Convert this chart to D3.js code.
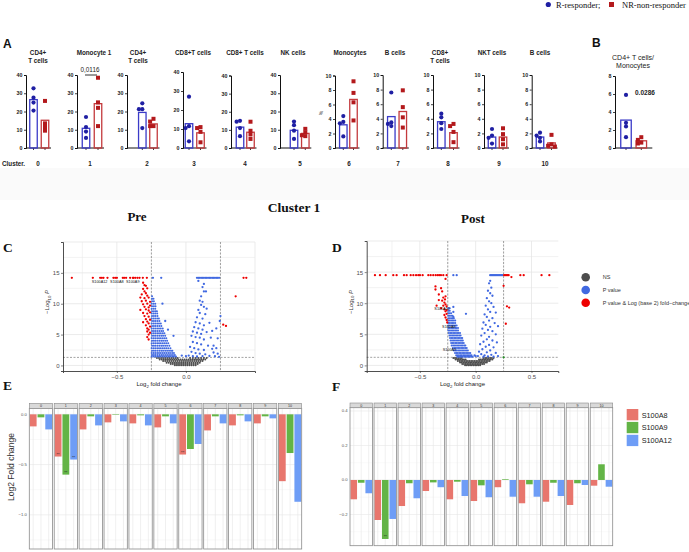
<!DOCTYPE html>
<html><head><meta charset="utf-8">
<script src="https://cdn.jsdelivr.net/npm/d3@7"></script>
<style>body{margin:0;background:#fff}svg{display:block}</style>
</head><body>
<svg id="c" width="689" height="552"></svg>
<script>
// ================= DATA =================
const clusterIds = ["0","1","2","3","4","5","6","7","8","9","10"];
const cellTitles = [["CD4+","T cells"],["Monocyte 1"],["CD4+","T cells"],["CD8+T cells"],["CD8+ T cells"],["NK cells"],["Monocytes"],["B cells"],["CD8+","T cells"],["NKT cells"],["B cells"]];
const yMaxA = [40,40,40,40,40,40,10,10,10,10,10];
const rBar  = [26.5,10.8,19.5,12.8,11.5,9.7,3.2,4.3,3.6,1.5,1.5];
const nrBar = [15.2,24.3,13.2,8.0,8.7,8.0,6.7,5.0,2.1,1.5,0.7];
const rDots  = [[32.7,27.6,24.9,20.5],[17,11.5,9,5.5],[24.5,21.3,21.3,10.9],[27,11.5,10.5,3.5],[15,14.5,11,6.5],[14.5,12.5,9.5,5],[4.4,3.6,3.4,1.6],[7.6,3.5,3.3,3.0],[4.7,4.2,3.4,2.6],[2.6,1.7,1.4,0.6],[2.1,1.7,1.4,0.9]];
const nrDots = [[25.8,13.5,11.5,9.5],[38.5,25,22,12],[16,14.5,12,12],[11,10.5,8.5,3],[14.5,9.5,7.5,5],[10.5,8.5,7,6.5],[9.2,7.6,6.3,3.8],[7.9,5.6,4.2,2.8],[3.3,3.0,2.2,0.8],[2.7,1.9,1.2,0.5],[1.8,0.5,0.3,0.2]];
const groups = ["R","NR"];
const pLabelA = "0,0116";
const ratioBar = [3.1, 0.8];
const ratioR = [5.9,2.8,2.4,1.2];
const ratioNR = [1.2,0.9,0.6,0.5];
const ratioP = "0.0286";

// Volcano: Pre
const preRed = [[-0.826,14.2],[-0.674,14.2],[-0.621,14.2],[-0.609,14.2],[-0.597,14.2],[-0.568,14.2],[-0.525,14.2],[-0.512,14.2],[-0.5,14.2],[-0.457,14.2],[-0.447,14.2],[-0.433,14.2],[-0.404,14.2],[-0.384,14.2],[-0.38,14.2],[-0.367,14.2],[-0.351,14.2],[-0.336,14.2],[-0.312,14.2],[-0.283,14.2],[0.417,14.2],[0.437,14.2],
[-0.31,13.4],[-0.3,13.0],[-0.29,12.9],[-0.31,12.4],[-0.28,12.5],[-0.30,12.0],[-0.29,11.7],[-0.32,11.5],[-0.28,11.3],[-0.33,11.0],[-0.30,10.9],[-0.27,11.0],[-0.32,10.4],[-0.29,10.5],[-0.26,10.3],[-0.31,9.9],[-0.28,10.0],[-0.30,9.5],[-0.27,9.4],[-0.26,9.7],[-0.33,9.0],[-0.29,9.1],[-0.27,8.9],[-0.31,8.5],[-0.28,8.4],[-0.26,8.6],[-0.30,8.0],[-0.27,7.9],[-0.29,7.5],[-0.26,7.4],[-0.31,7.0],[-0.28,7.1],[-0.27,6.8],[-0.29,6.5],[-0.26,6.3],[-0.28,6.0],[-0.27,5.8],[-0.28,5.5],[-0.26,5.3],[-0.27,5.0],[-0.28,4.6],[-0.27,4.2],
[0.27,6.6],[0.29,6.4],[0.36,11.2]];
const preBlue = [[-0.239,14.2],[-0.179,14.2],[0.08,14.2],[0.09,14.2],[0.1,14.2],[0.11,14.2],[0.12,14.2],[0.13,14.2],[0.14,14.2],[0.15,14.2],[0.16,14.2],[0.17,14.2],[0.18,14.2],[0.19,14.2],[0.2,14.2],[0.21,14.2],[0.22,14.2],[0.23,14.2],[0.24,14.2],[0.09,13.7],
[0.13,13.2],[0.12,12.7],[0.13,12.0],[0.145,12.0],[0.11,11.2],[0.1,10.5],[0.12,10.3],[0.11,9.8],[0.13,9.5],[0.09,9.0],[0.15,9.2],[0.1,8.5],[0.14,8.3],[0.25,8.0],[0.08,7.8],[0.12,7.6],[0.245,7.2],[0.07,7.0],[0.1,6.8],[0.13,6.5],[0.17,6.9],[0.06,6.2],[0.09,6.0],[0.12,5.8],[0.22,6.0],[0.05,5.5],[0.08,5.3],[0.11,5.1],[0.15,5.4],[0.19,5.6],[0.04,4.8],[0.07,4.6],[0.1,4.5],[0.13,4.2],[0.18,4.5],[0.23,4.4],[0.05,3.8],[0.08,3.6],[0.11,3.4],[0.16,3.2],[0.2,3.2],[0.03,3.0],[0.06,2.8],[0.09,2.6],[0.13,2.5],[0.19,2.7],[0.22,2.8],[0.04,2.2],[0.07,2.0],[0.1,1.9],[0.14,1.8],[0.2,2.1],[0.23,1.9],[0.02,1.6],[0.05,1.5],[0.08,1.45],[0.12,1.5],[0.17,1.55],[0.21,1.5],[0.24,1.4],[-0.09,4.8],[-0.17,10.0],[-0.15,7.2],[-0.13,5.8],[0.0,1.5],[-0.03,1.6]];
// rows: first value is -log10 P, the rest are log2 fold changes
const preBlueRows = [[11.2,-0.245],[10.8,-0.245,-0.235],[10.4,-0.245,-0.232],[10.0,-0.248,-0.235,-0.222],[9.6,-0.245,-0.232,-0.22],[9.2,-0.248,-0.235,-0.222],[8.8,-0.245,-0.232,-0.22,-0.21],[8.4,-0.248,-0.235,-0.222,-0.208],[8.0,-0.245,-0.232,-0.22,-0.206],[7.6,-0.248,-0.235,-0.222,-0.208,-0.196],[7.2,-0.245,-0.232,-0.22,-0.206,-0.192],[6.8,-0.248,-0.235,-0.222,-0.208,-0.195,-0.182],[6.4,-0.245,-0.232,-0.22,-0.206,-0.192,-0.178],[6.0,-0.248,-0.235,-0.222,-0.208,-0.195,-0.182,-0.168],[5.6,-0.245,-0.232,-0.22,-0.206,-0.192,-0.178,-0.165],[5.2,-0.248,-0.235,-0.222,-0.208,-0.195,-0.182,-0.168,-0.156],[4.8,-0.245,-0.232,-0.22,-0.206,-0.192,-0.178,-0.165,-0.15],[4.4,-0.248,-0.235,-0.222,-0.208,-0.195,-0.182,-0.168,-0.155,-0.142],[4.0,-0.245,-0.232,-0.22,-0.206,-0.192,-0.178,-0.165,-0.15,-0.136],[3.6,-0.248,-0.235,-0.222,-0.208,-0.195,-0.182,-0.168,-0.155,-0.142,-0.128],[3.2,-0.245,-0.232,-0.22,-0.206,-0.192,-0.178,-0.165,-0.15,-0.136,-0.12],[2.8,-0.248,-0.235,-0.222,-0.208,-0.195,-0.182,-0.168,-0.155,-0.142,-0.128,-0.112],[2.4,-0.245,-0.232,-0.22,-0.206,-0.192,-0.178,-0.165,-0.15,-0.136,-0.122,-0.108,-0.098],[2.0,-0.248,-0.235,-0.222,-0.208,-0.195,-0.182,-0.168,-0.155,-0.142,-0.128,-0.115,-0.1,-0.087],[1.7,-0.245,-0.232,-0.22,-0.206,-0.192,-0.178,-0.165,-0.15,-0.136,-0.122,-0.108,-0.094,-0.08],[1.45,-0.248,-0.235,-0.222,-0.208,-0.195,-0.182,-0.168,-0.155,-0.142,-0.128,-0.115,-0.1,-0.087,-0.072]];
const preGreyRows = [[1.2,-0.21,-0.195,-0.18,-0.165,-0.15,-0.135,-0.12,-0.105,-0.09,-0.075,-0.06,0.03,0.05,0.07,0.09,0.11,0.13,0.15],[0.95,-0.19,-0.175,-0.16,-0.145,-0.13,-0.115,-0.1,-0.085,-0.07,-0.055,-0.04,-0.025,-0.01,0.005,0.02,0.035,0.05,0.065,0.08,0.095,0.11,0.125,0.14],[0.7,-0.165,-0.15,-0.135,-0.12,-0.105,-0.09,-0.075,-0.06,-0.045,-0.03,-0.015,0,0.015,0.03,0.045,0.06,0.075,0.09,0.105,0.12],[0.45,-0.14,-0.125,-0.11,-0.095,-0.08,-0.065,-0.05,-0.035,-0.02,-0.005,0.01,0.025,0.04,0.055,0.07,0.085,0.1],[0.22,-0.11,-0.095,-0.08,-0.065,-0.05,-0.035,-0.02,-0.005,0.01,0.025,0.04,0.055,0.07,0.085],[0.03,-0.08,-0.065,-0.05,-0.035,-0.02,-0.005,0.01,0.025,0.04,0.055,0.07]];
const preLabels = [["S100A12",-0.625,13.6],["S100A8",-0.5,13.6],["S100A9",-0.385,13.6]];

// Volcano: Post
const postRed = [[-0.902,14.5],[-0.857,14.5],[-0.806,14.5],[-0.738,14.5],[-0.708,14.5],[-0.642,14.5],[-0.618,14.5],[-0.582,14.5],[-0.558,14.5],[-0.534,14.5],[-0.514,14.5],[-0.499,14.5],[-0.475,14.5],[-0.424,14.5],[-0.403,14.5],[-0.38,14.5],[-0.358,14.5],[-0.34,14.5],[-0.326,14.5],[-0.311,14.5],[-0.29,14.5],[-0.26,14.5],[-0.27,13.9],
[0.255,14.5],[0.265,14.5],[0.275,14.5],[0.285,14.5],[0.295,14.5],[0.32,14.2],[0.4,14.5],[0.43,14.5],[0.59,14.5],[0.66,14.5],
[-0.36,12.7],[-0.36,12.2],[-0.31,12.4],[-0.30,11.9],[-0.33,11.4],[-0.29,10.9],[-0.27,11.1],[-0.30,10.4],[-0.33,10.5],[-0.28,10.1],[-0.27,9.8],[-0.29,9.6],[-0.26,9.5],[-0.35,9.6],[-0.31,9.2],[-0.28,9.0],[-0.27,8.7],[-0.26,8.3],[-0.28,8.1],[-0.27,7.7],[-0.26,7.3],[-0.255,6.9],[-0.26,8.9],[-0.275,10.6],
[0.25,12.8],[0.28,9.5],[0.3,9.3],[0.27,6.7]];
const postBlue = [[-0.2,14.5],[-0.17,14.5],[0.13,14.5],[0.14,14.5],[0.15,14.5],[0.16,14.5],[0.17,14.5],[0.18,14.5],[0.19,14.5],[0.2,14.5],[0.21,14.5],[0.22,14.5],[0.23,14.5],[0.24,14.5],
[-0.2,9.4],[-0.2,8.6],[-0.2,7.8],[-0.087,8.3],
[0.13,13.6],[0.12,13.2],[0.14,12.5],[0.11,12.0],[0.13,11.6],[0.15,11.2],[0.1,10.8],[0.12,10.3],[0.14,10.0],[0.09,9.6],[0.16,9.4],[0.11,9.0],[0.13,8.6],[0.18,8.5],[0.08,8.2],[0.1,7.8],[0.15,7.6],[0.12,7.2],[0.07,6.9],[0.17,6.8],[0.09,6.5],[0.13,6.2],[0.2,6.3],[0.06,5.9],[0.11,5.7],[0.15,5.5],[0.08,5.2],[0.18,5.0],[0.05,4.8],[0.12,4.6],[0.1,4.2],[0.15,4.0],[0.07,3.8],[0.19,3.7],[0.04,3.4],[0.12,3.3],[0.09,3.0],[0.16,2.9],[0.06,2.6],[0.13,2.4],[0.03,2.2],[0.1,2.1],[0.18,2.0],[0.05,1.8],[0.08,1.6],[0.14,1.7],[0.02,1.5],[0.11,1.45],[0.16,1.4],[0.2,1.5],[0.07,1.4],[0.0,1.5],[-0.01,1.6]];
const postBlueRows = [[9.2,-0.245,-0.232],[8.8,-0.245,-0.232],[8.4,-0.245,-0.232,-0.22],[8.0,-0.245,-0.232,-0.22,-0.207],[7.6,-0.245,-0.232,-0.22,-0.207,-0.195],[7.2,-0.245,-0.232,-0.22,-0.207,-0.195,-0.183],[6.8,-0.245,-0.232,-0.22,-0.207,-0.195,-0.183],[6.4,-0.245,-0.232,-0.22,-0.207,-0.195,-0.183,-0.17],[6.0,-0.245,-0.232,-0.22,-0.207,-0.195,-0.183,-0.17,-0.158],[5.6,-0.245,-0.232,-0.22,-0.207,-0.195,-0.183,-0.17,-0.158],[5.2,-0.24,-0.227,-0.215,-0.202,-0.19,-0.177,-0.165,-0.152,-0.14],[4.8,-0.235,-0.222,-0.21,-0.197,-0.185,-0.172,-0.16,-0.147,-0.135],[4.4,-0.23,-0.217,-0.205,-0.192,-0.18,-0.167,-0.155,-0.142,-0.13,-0.12],[4.0,-0.225,-0.212,-0.2,-0.187,-0.175,-0.162,-0.15,-0.137,-0.125,-0.115],[3.6,-0.22,-0.207,-0.195,-0.182,-0.17,-0.157,-0.145,-0.132,-0.12,-0.107],[3.2,-0.215,-0.202,-0.19,-0.177,-0.165,-0.152,-0.14,-0.127,-0.115,-0.102,-0.092],[2.8,-0.205,-0.192,-0.18,-0.167,-0.155,-0.142,-0.13,-0.117,-0.105,-0.092,-0.08],[2.4,-0.195,-0.182,-0.17,-0.157,-0.145,-0.132,-0.12,-0.107,-0.095,-0.082,-0.07],[2.0,-0.185,-0.172,-0.16,-0.147,-0.135,-0.122,-0.11,-0.097,-0.085,-0.072,-0.06,-0.048],[1.65,-0.175,-0.162,-0.15,-0.137,-0.125,-0.112,-0.1,-0.087,-0.075,-0.062,-0.05,-0.037],[1.4,-0.165,-0.152,-0.14,-0.127,-0.115,-0.102,-0.09,-0.077,-0.065,-0.052,-0.04,-0.027]];
const postGreyRows = [[1.2,-0.2,-0.185,-0.17,-0.155,-0.14,-0.125,0.07,0.085,0.1,0.115,0.13,0.145,0.16],[0.95,-0.18,-0.165,-0.15,-0.135,-0.12,-0.105,-0.09,0.03,0.045,0.06,0.075,0.09,0.105,0.12,0.135,0.15],[0.7,-0.16,-0.145,-0.13,-0.115,-0.1,-0.085,-0.07,-0.055,-0.04,-0.025,-0.01,0.005,0.02,0.035,0.05,0.065,0.08,0.095,0.11,0.125],[0.45,-0.14,-0.125,-0.11,-0.095,-0.08,-0.065,-0.05,-0.035,-0.02,-0.005,0.01,0.025,0.04,0.055,0.07,0.085,0.1],[0.22,-0.12,-0.105,-0.09,-0.075,-0.06,-0.045,-0.03,-0.015,0,0.015,0.03,0.045,0.06,0.075],[0.03,-0.095,-0.08,-0.065,-0.05,-0.035,-0.02,-0.005,0.01,0.025,0.04]];
const postGreen = [[0.25,1.3]];
const postLabels = [["S100A12",-0.3,9.2],["S100A8",-0.24,6.2],["S100A9",-0.235,2.6]];
const volcanoLegend = ["NS","P value","P value & Log (base 2) fold\u2212change"];

// Log2 fold change bars
const genes = ["S100A8","S100A9","S100A12"];
const preS100A8  = [-0.12,-0.42,-0.15,-0.08,-0.09,-0.13,-0.40,-0.16,-0.11,-0.09,-0.665];
const preS100A9  = [-0.03,-0.60,-0.02,-0.005,-0.01,-0.02,-0.345,-0.02,-0.01,-0.02,-0.385];
const preS100A12 = [-0.15,-0.45,-0.11,-0.07,-0.11,-0.09,-0.295,-0.09,-0.07,-0.04,-0.87];
const postS100A8  = [-0.112,-0.232,-0.151,-0.064,-0.112,-0.122,-0.042,-0.135,-0.126,-0.145,-0.033];
const postS100A9  = [-0.016,-0.342,-0.019,-0.014,-0.01,-0.031,0.004,-0.025,-0.016,-0.019,0.091];
const postS100A12 = [-0.077,-0.226,-0.106,-0.042,-0.093,-0.1,-0.097,-0.097,-0.093,-0.029,-0.039];
const preStars = [["1","S100A8"],["1","S100A9"],["1","S100A12"],["6","S100A8"]];
const postStars = [["1","S100A9"]];

// ================= DRAWING =================
const svg = d3.select("#c");
const SANS = "'Liberation Sans', Arial, sans-serif";
const SERIF = "'Liberation Serif', 'Times New Roman', serif";
const BLUE = "#1f1fa3", BLUE_BAR = "#3b3bc8", RED = "#b3191c", RED_BAR = "#c43a3d";

svg.append("rect").attr("x",0).attr("y",168).attr("width",689).attr("height",32).attr("fill","#fafafa");

function txt(x,y,s,o={}){
  const t = svg.append("text").attr("x",x).attr("y",y).text(s)
    .attr("font-family",o.ff||SANS).attr("font-size",o.fs||7)
    .attr("font-weight",o.fw||"normal").attr("fill",o.fill||"#111")
    .attr("text-anchor",o.anchor||"start");
  if(o.rot) t.attr("transform",`rotate(${o.rot},${x},${y})`);
  return t;
}

// Top legend
svg.append("circle").attr("cx",548.3).attr("cy",4.5).attr("r",2.6).attr("fill",BLUE);
txt(556,7.5,"R-responder;",{ff:SERIF,fs:8.5});
svg.append("rect").attr("x",609).attr("y",2).attr("width",5).attr("height",5).attr("fill",RED);
txt(622,7.5,"NR-non-responder",{ff:SERIF,fs:8.5});

txt(3,48,"A",{fs:12,fw:"bold"});
txt(592,47,"B",{fs:12,fw:"bold"});

const aLayout = [
 {ax:26, c:[33.5,45], top:75, lx:38, tx:38},
 {ax:77, c:[86,98], top:75, lx:90, tx:94},
 {ax:127, c:[142.3,153.5], top:75, lx:147, tx:138},
 {ax:183, c:[189,200.5], top:72, lx:194, tx:193},
 {ax:231, c:[240,250.5], top:75.5, lx:245, tx:245},
 {ax:280, c:[294,305.3], top:75, lx:300, tx:293},
 {ax:335, c:[343.3,353.5], top:75.5, lx:349, tx:350},
 {ax:382.7, c:[391.3,402.8], top:75, lx:398, tx:395},
 {ax:433, c:[441.3,453.5], top:75, lx:448, tx:440},
 {ax:484, c:[492,503], top:75, lx:499, tx:492},
 {ax:531.7, c:[540,551.5], top:75, lx:545, tx:540}
];

function swarm(vals, y, cx){
  const placed=[];
  return vals.map(v=>{
    const py=y(v);
    const near=placed.filter(p=>Math.abs(p.py-py)<3.4);
    let off=0;
    if(near.length){
      const offs=[0,-3.4,3.4,-6.5,6.5];
      off = offs.find(o=>!near.some(p=>Math.abs(p.off-o)<1)); if(off===undefined) off=0;
    }
    placed.push({py,off});
    return [cx+off,py];
  });
}

function dotBar(g, L, yMax, ticks, rB, nrB, rD, nrD, bw){
  const x = d3.scalePoint().domain(groups).range(L.c);
  const y = d3.scaleLinear().domain([0,yMax]).range([148,L.top]);
  const ya = g.append("g").attr("transform",`translate(${L.ax},0)`)
    .call(d3.axisLeft(y).tickValues(ticks).tickSize(2).tickPadding(1.5));
  ya.select(".domain").attr("stroke","#111").attr("stroke-width",1);
  ya.selectAll(".tick line").attr("stroke","#111").attr("stroke-width",0.8);
  ya.selectAll("text").attr("font-family",SANS).attr("font-size",5.3).attr("font-weight","bold").attr("fill","#222");
  const endX = L.c[1]+ (L.end||6);
  g.append("line").attr("x1",L.ax).attr("x2",endX).attr("y1",y(0)).attr("y2",y(0)).attr("stroke","#111").attr("stroke-width",1);
  groups.forEach(k=>{
    g.append("line").attr("x1",x(k)).attr("x2",x(k)).attr("y1",y(0)).attr("y2",y(0)+2).attr("stroke","#111").attr("stroke-width",0.8);
  });
  const bars=[[groups[0],rB,BLUE_BAR],[groups[1],nrB,RED_BAR]];
  bars.forEach(([k,v,col])=>{
    g.append("rect").attr("x",x(k)-bw/2).attr("y",y(v)).attr("width",bw).attr("height",y(0)-y(v))
      .attr("fill","none").attr("stroke",col).attr("stroke-width",1.3);
  });
  swarm(rD,y,x(groups[0])).forEach(([px,py])=>g.append("circle").attr("cx",px).attr("cy",py).attr("r",2.1).attr("fill",BLUE));
  swarm(nrD,y,x(groups[1])).forEach(([px,py])=>g.append("rect").attr("x",px-2).attr("y",py-2).attr("width",4).attr("height",4).attr("fill",RED));
  return {x,y};
}

clusterIds.forEach((cid,i)=>{
  const L=aLayout[i];
  const g=svg.append("g");
  const ticks = yMaxA[i]===40?[0,10,20,30,40]:[0,2,4,6,8,10];
  const s = dotBar(g,L,yMaxA[i],ticks,rBar[i],nrBar[i],rDots[i],nrDots[i],7.5);
  const lines=cellTitles[i];
  lines.forEach((ln,j)=>txt(L.tx,54.5+j*8.2,ln,{fs:6.3,fw:"bold",anchor:"middle",fill:"#222"}));
  txt(L.lx,166,cid,{fs:6.3,fw:"bold",anchor:"middle",fill:"#222"});
  if(cid==="1"){
    const x=s.x;
    svg.append("line").attr("x1",x("R")-1).attr("x2",x("NR")-1).attr("y1",75).attr("y2",75).attr("stroke","#333").attr("stroke-width",1);
    txt((x("R")+x("NR"))/2-2,72,pLabelA,{fs:6.3,anchor:"middle",fill:"#222"});
  }
  if(cid==="6") txt(323,113,"%",{fs:5,rot:-90,anchor:"middle"});
});
txt(2,166,"Cluster.",{fs:6.3,fw:"bold",fill:"#222"});

// Panel B
{
  const g=svg.append("g");
  const L={ax:615,c:[626,641.3],top:76,end:11};
  dotBar(g,L,8,[0,2,4,6,8],ratioBar[0],ratioBar[1],ratioR,ratioNR,10.5);
  txt(633,59.5,"CD4+ T cells/",{fs:7,anchor:"middle",fill:"#222"});
  txt(633,68,"Monocytes",{fs:7,anchor:"middle",fill:"#222"});
  txt(635,95,ratioP,{fs:6.5,fw:"bold",fill:"#222"});
}

// Section titles
txt(294,212,"Cluster 1",{ff:SERIF,fs:13.5,fw:"bold",anchor:"middle"});
txt(137,221,"Pre",{ff:SERIF,fs:13,fw:"bold",anchor:"middle"});
txt(473,223,"Post",{ff:SERIF,fs:13,fw:"bold",anchor:"middle"});
txt(3,252,"C",{ff:SERIF,fs:13.5,fw:"bold"});
txt(332,252,"D",{ff:SERIF,fs:13.5,fw:"bold"});
txt(3,390,"E",{ff:SERIF,fs:13.5,fw:"bold"});
txt(332,391,"F",{ff:SERIF,fs:13.5,fw:"bold"});

const NS_COL="#4d4d4d", P_COL="#4169e1", FC_COL="#ee0000", G_COL="#228b22";
function rowsToPts(rows){ const out=[]; rows.forEach(r=>r.slice(1).forEach(xv=>out.push([xv,r[0]]))); return out; }

function volcano(o){
  const g=svg.append("g");
  const x=d3.scaleLinear().domain(o.xd).range([o.l,o.r]);
  const y=d3.scaleLinear().domain([-0.9,20]).range([371,o.t]);
  const xg=d3.range(-1,1.01,0.25).filter(v=>v>=o.xd[0]&&v<=o.xd[1]);
  const yg=d3.range(0,20.01,2.5);
  g.selectAll(".vg").data(xg).join("line").attr("x1",d=>x(d)).attr("x2",d=>x(d)).attr("y1",o.t).attr("y2",371)
    .attr("stroke","#e6e6e6").attr("stroke-width",d=>Math.abs(d*2-Math.round(d*2))<1e-6?0.8:0.5);
  g.selectAll(".hg").data(yg).join("line").attr("x1",o.l).attr("x2",o.r).attr("y1",d=>y(d)).attr("y2",d=>y(d))
    .attr("stroke","#e6e6e6").attr("stroke-width",d=>d%5===0?0.8:0.5);
  [-0.25,0.25].forEach(v=>g.append("line").attr("x1",x(v)).attr("x2",x(v)).attr("y1",o.t).attr("y2",371).attr("stroke","#666").attr("stroke-width",0.6).attr("stroke-dasharray","2,1.5"));
  g.append("line").attr("x1",o.l).attr("x2",o.r).attr("y1",y(1.3)).attr("y2",y(1.3)).attr("stroke","#666").attr("stroke-width",0.6).attr("stroke-dasharray","2,1.5");
  const pts=(arr,col,r)=>g.append("g").selectAll("circle").data(arr).join("circle")
    .attr("cx",d=>x(d[0])).attr("cy",d=>y(d[1])).attr("r",r).attr("fill",col);
  pts(o.grey,NS_COL,1.0);
  pts(o.band,P_COL,1.0);
  pts(o.blue,P_COL,1.15);
  pts(o.red,FC_COL,1.15);
  if(o.green) pts(o.green,G_COL,1.15);
  o.labels.forEach(([t,xv,yv])=>g.append("text").attr("x",x(xv)).attr("y",y(yv)+1.5).text(t)
     .attr("font-family",SANS).attr("font-size",3.8).attr("fill","#111").attr("text-anchor","middle"));
  const ax=g.append("g").attr("transform","translate(0,371)").call(d3.axisBottom(x).tickValues(o.xt).tickFormat(d3.format(".1f")).tickSize(2).tickPadding(1.5));
  const ay=g.append("g").attr("transform",`translate(${o.l},0)`).call(d3.axisLeft(y).tickValues([0,5,10,15]).tickSize(2).tickPadding(1.5));
  [ax,ay].forEach(a=>{
    a.select(".domain").attr("stroke","#222").attr("stroke-width",0.8);
    a.selectAll(".tick line").attr("stroke","#333").attr("stroke-width",0.6);
    a.selectAll("text").attr("font-family",SANS).attr("font-size",6).attr("fill","#4d4d4d");
  });
  const xl=g.append("text").attr("x",o.xlab).attr("y",386).attr("text-anchor","middle").attr("font-family",SANS).attr("font-size",6).attr("fill","#222");
  xl.append("tspan").text("Log");
  xl.append("tspan").text("2").attr("font-size",4.3).attr("dy",1.5);
  xl.append("tspan").text(" fold change").attr("dy",-1.5);
  const yl=g.append("text").attr("transform",`translate(${o.l-14},302) rotate(-90)`).attr("text-anchor","middle").attr("font-family",SANS).attr("font-size",6).attr("fill","#333");
  yl.append("tspan").text("\u2212Log");
  yl.append("tspan").text("10").attr("font-size",4.3).attr("dy",1.5);
  yl.append("tspan").text(" P").attr("dy",-1.5).attr("font-style","italic");
}

volcano({l:63,r:255,t:242,xd:[-0.89,0.5],xt:[-0.5,0],xlab:159,
  grey:rowsToPts(preGreyRows), band:rowsToPts(preBlueRows), blue:preBlue, red:preRed, labels:preLabels});
volcano({l:366.7,r:558.3,t:241,xd:[-0.976,0.74],xt:[-0.5,0,0.5],xlab:462.5,
  grey:rowsToPts(postGreyRows), band:rowsToPts(postBlueRows), blue:postBlue, red:postRed, green:postGreen, labels:postLabels});

// volcano legend
[NS_COL,P_COL,FC_COL].forEach((col,i)=>{
  svg.append("circle").attr("cx",585.7).attr("cy",277.3+i*12.7).attr("r",4.3).attr("fill",col);
  txt(602.7,279.3+i*12.7,volcanoLegend[i],{fs:5.5,fill:"#333"});
});

// facet bar charts
const GENE_COL = {S100A8:"#e8766d", S100A9:"#63b446", S100A12:"#6e9df6"};
function facets(o){
  const g=svg.append("g");
  const fx=d3.scaleBand().domain(clusterIds).range([o.x0,o.x1]).paddingInner(0.065);
  const gx=d3.scaleBand().domain(genes).range([0,fx.bandwidth()]).paddingInner(0.12).paddingOuter(0.06);
  const y=d3.scaleLinear().domain(o.yd).range([o.bottom,o.top]);
  const vals={S100A8:o.a8,S100A9:o.a9,S100A12:o.a12};
  clusterIds.forEach((cid,i)=>{
    const fg=g.append("g").attr("transform",`translate(${fx(cid)},0)`);
    const w=fx.bandwidth();
    fg.append("rect").attr("x",0).attr("y",o.top).attr("width",w).attr("height",o.bottom-o.top).attr("fill","#fff");
    o.minor.forEach(v=>fg.append("line").attr("x1",0).attr("x2",w).attr("y1",y(v)).attr("y2",y(v)).attr("stroke","#f0f0f0").attr("stroke-width",0.4));
    o.major.forEach(v=>fg.append("line").attr("x1",0).attr("x2",w).attr("y1",y(v)).attr("y2",y(v)).attr("stroke","#e6e6e6").attr("stroke-width",0.6));
    genes.forEach(gn=>fg.append("line").attr("x1",gx(gn)+gx.bandwidth()/2).attr("x2",gx(gn)+gx.bandwidth()/2).attr("y1",o.top).attr("y2",o.bottom).attr("stroke","#e6e6e6").attr("stroke-width",0.6));
    genes.forEach(gn=>{
      const v=vals[gn][i];
      fg.append("rect").attr("x",gx(gn)).attr("width",gx.bandwidth())
        .attr("y",Math.min(y(0),y(v))).attr("height",Math.max(0.4,Math.abs(y(v)-y(0)))).attr("fill",GENE_COL[gn]);
    });
    o.stars.filter(s=>s[0]===cid).forEach(([c,gn])=>{
      fg.append("text").attr("x",gx(gn)+gx.bandwidth()/2).attr("y",y(vals[gn][i])-0.5).text("**")
        .attr("font-family",SANS).attr("font-size",4).attr("fill","#222").attr("text-anchor","middle");
    });
    fg.append("rect").attr("x",0).attr("y",o.top).attr("width",w).attr("height",o.bottom-o.top).attr("fill","none").attr("stroke","#8a8a8a").attr("stroke-width",0.8);
    fg.append("rect").attr("x",0).attr("y",o.stripTop).attr("width",w).attr("height",o.top-o.stripTop).attr("fill","#d9d9d9").attr("stroke","#8a8a8a").attr("stroke-width",0.6);
    fg.append("text").attr("x",w/2).attr("y",o.top-1.2).text(cid).attr("font-family",SANS).attr("font-size",3.6).attr("fill","#333").attr("text-anchor","middle");
  });
  o.major.forEach(v=>g.append("text").attr("x",o.x0-2.5).attr("y",y(v)+1.4).text(d3.format(".1f")(v))
     .attr("font-family",SANS).attr("font-size",4.2).attr("fill","#555").attr("text-anchor","end"));
}
facets({x0:29.3,x1:301.7,stripTop:403.3,top:408.3,bottom:549,yd:[-1.34,0.06],a8:preS100A8,a9:preS100A9,a12:preS100A12,
  major:[0,-0.5,-1.0],minor:[-0.25,-0.75,-1.25],stars:preStars});
facets({x0:350,x1:612.7,stripTop:403,top:407.7,bottom:545.7,yd:[-0.381,0.419],a8:postS100A8,a9:postS100A9,a12:postS100A12,
  major:[0.4,0.2,0,-0.2],minor:[0.3,0.1,-0.1,-0.3],stars:postStars});

txt(14,467,"Log2 Fold change",{fs:8.5,rot:-90,anchor:"middle",fill:"#333"});

genes.forEach((gn,i)=>{
  svg.append("rect").attr("x",626.7).attr("y",409+i*12.9).attr("width",11.6).attr("height",11.3).attr("fill",GENE_COL[gn]);
  txt(641.7,417.5+i*12.9,gn,{fs:7.3,fill:"#222"});
});
</script>
</body></html>
